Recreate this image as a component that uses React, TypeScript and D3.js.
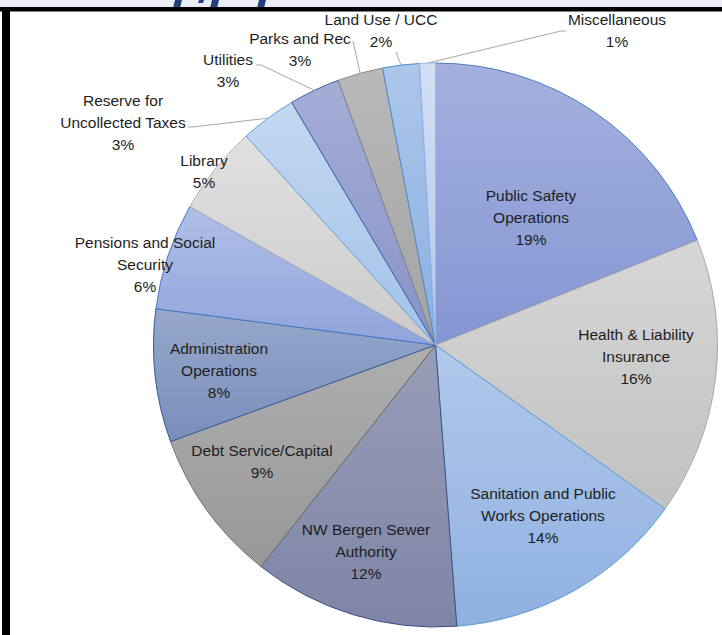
import { arc, pie, hsl } from 'd3';

// Budget share by category, clockwise from 12 o'clock
const categories = [
  'Public Safety\nOperations',
  'Health & Liability\nInsurance',
  'Sanitation and Public\nWorks Operations',
  'NW Bergen Sewer\nAuthority',
  'Debt Service/Capital',
  'Administration\nOperations',
  'Pensions and Social\nSecurity',
  'Library',
  'Reserve for\nUncollected Taxes',
  'Utilities',
  'Parks and Rec',
  'Land Use / UCC',
  'Miscellaneous',
];
const values = [18.9, 15.9, 13.9, 11.8, 8.8, 7.6, 6.1, 5.1, 3.2, 2.9, 2.6, 2.1, 0.9];

const fills = [
  '#97a6da', '#cecece', '#a3bfe6', '#8d93b0', '#a5a5a5', '#8a9dc4', '#a3b4e2',
  '#d8d8d8', '#b6cfed', '#98a3cf', '#b0b0b0', '#9ebde6', '#c6d4f0',
];
const strokes = [
  '#4a7bc8', '#a8a8a8', '#5b9bd5', '#3d4f85', '#6e6e6e', '#3a5a9a', '#4a7bc8',
  '#b4b4b4', '#6aa2da', '#3d5fa8', '#8a8a8a', '#4a8ad0', '#9ab8e6',
];

// label centre (x, first-line y), and for outside labels the label-side leader points
const labelAt: [number, number][] = [
  [531, 196], [636, 335], [543, 494], [366, 530], [262, 451], [219, 349], [145, 243],
  [204, 161], [123, 101], [228, 60], [300, 39], [381, 20], [617, 20],
];
const leaders: Record<number, [number, number][]> = {
  8: [[188, 127], [193, 127]],
  9: [[256, 65], [261, 65]],
  10: [[353, 41]],
  11: [[396, 52]],
  12: [[566, 31], [561, 31]],
};

const W = 722;
const H = 635;
const cx = 435.5;
const cy = 345;
const R = 282;

export default function App() {
  const total = values.reduce((s, v) => s + v, 0);
  const slices = pie<number>().sort(null).value((d) => d)(values);
  const a = arc<any>().innerRadius(0).outerRadius(R);
  const edge = (ang: number): [number, number] => [cx + R * Math.sin(ang), cy - R * Math.cos(ang)];

  return (
    <div style={{ position: 'absolute', left: 0, top: 0 }}>
      <svg width={W} height={H} viewBox={`0 0 ${W} ${H}`} style={{ display: 'block', fontFamily: '"Liberation Sans", Arial, sans-serif' }}>
        <defs>
          {fills.map((c, i) => {
            const top = hsl(c);
            top.l = Math.min(1, top.l + 0.035);
            const bot = hsl(c);
            bot.l = bot.l - 0.05;
            return (
              <linearGradient key={i} id={`g${i}`} x1="0" y1="0" x2="0" y2="1">
                <stop offset="0" stopColor={top.formatHex()} />
                <stop offset="1" stopColor={bot.formatHex()} />
              </linearGradient>
            );
          })}
        </defs>
        <rect width={W} height={H} fill="#ffffff" />
        {/* slide header strip behind the frame */}
        <rect width={W} height={8} fill="#eaedf6" />
        <g fill="#23407a">
          <polygon points="175,0 182,0 180,8 173,8" />
          <polygon points="199,0 204,0 203,3 198,3" />
          <polygon points="212,0 219,0 217,8 210,8" />
          <polygon points="259,0 266,0 264,8 257,8" />
        </g>
        <rect x={0} y={7} width={W} height={4.5} fill="#000" />
        <rect x={2} y={7} width={8} height={H - 7} fill="#000" />

        <g transform={`translate(${cx},${cy})`}>
          {slices.map((s, i) => (
            <path key={i} d={a(s) ?? undefined} fill={`url(#g${i})`} stroke={strokes[i]} strokeWidth={1} strokeLinejoin="round" />
          ))}
        </g>

        {slices.map((s, i) => {
          const pts = leaders[i];
          if (!pts) return null;
          const end = edge((s.startAngle + s.endAngle) / 2);
          const all = [...pts, end];
          return (
            <polyline key={i} points={all.map((p) => p.join(',')).join(' ')} fill="none" stroke="#a6a6a6" strokeWidth={1} />
          );
        })}

        {categories.map((c, i) => {
          const lines = [...c.split('\n'), `${Math.round((values[i] / total) * 100)}%`];
          const [x, y] = labelAt[i];
          return (
            <text key={i} x={x} y={y} textAnchor="middle" fill="#1e1e1e" style={{ fontSize: 15.5 }}>
              {lines.map((l, j) => (
                <tspan key={j} x={x} y={y + j * 22} dy="0.35em">
                  {l}
                </tspan>
              ))}
            </text>
          );
        })}
      </svg>
    </div>
  );
}
